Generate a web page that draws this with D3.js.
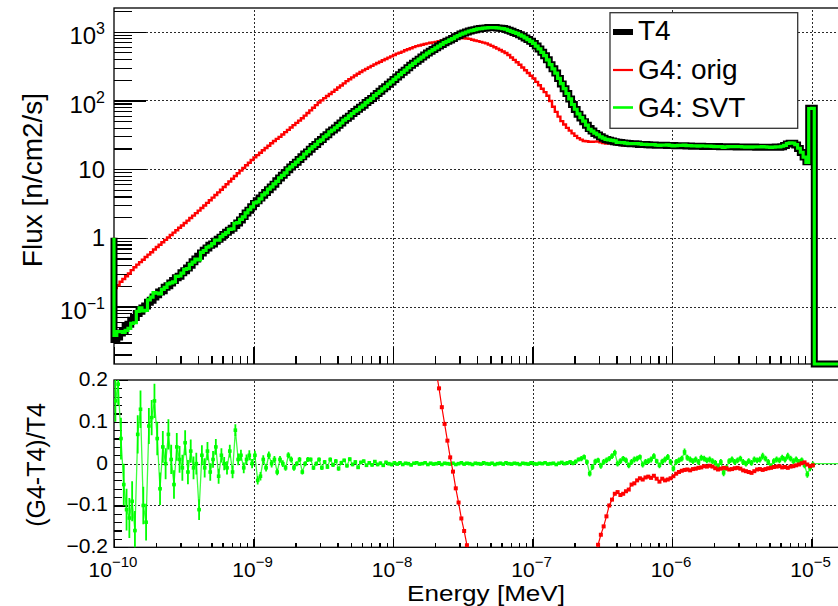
<!DOCTYPE html>
<html>
<head>
<meta charset="utf-8">
<script src="https://cdn.jsdelivr.net/npm/d3@7"></script>
<style>
  body { margin: 0; background: #fff; }
  svg { display: block; }
  text { font-family: "Liberation Sans", Arial, Helvetica, sans-serif; fill: #000; }
</style>
</head>
<body>
<svg id="chart" width="838" height="606"></svg>
<script>
// ---- Binning: 50 logarithmic bins per decade starting at 1e-10 MeV ----
const binsPerDecade = 50;
const logEnergyMin = -10;

// Content of the bin just below 1e-10 MeV (only its right edge is visible)
const underflowFlux = { t4: 1.0, orig: 1.0, svt: 1.0 };

// Neutron flux per bin [n/cm2/s]
const t4Flux = [
  0.033,0.036,0.041,0.044,0.051,0.055,0.063,0.069,0.079,0.085,
  0.095,0.102,0.115,0.123,0.138,0.148,0.162,0.170,0.190,0.200,
  0.219,0.240,0.263,0.275,0.309,0.331,0.363,0.398,0.447,0.490,
  0.537,0.603,0.661,0.708,0.776,0.813,0.891,0.955,1.02,1.12,
  1.20,1.29,1.38,1.51,1.64,1.82,2.04,2.29,2.51,2.82,
  3.16,3.47,3.80,4.17,4.57,5.01,5.50,6.03,6.76,7.41,
  8.13,8.91,9.77,10.7,11.7,12.6,13.8,15.1,16.6,17.8,
  19.5,21.4,22.9,25.1,26.9,29.5,31.6,34.7,37.2,39.8,
  43.6,46.8,51.3,55.0,58.9,64.6,69.2,74.1,79.4,85.1,
  93.3,100,107,116,126,136,148,158,172,186,
  202,219,237,257,275,299,324,347,372,398,
  427,457,490,519,550,582,617,653,692,724,
  759,794,841,881,923,955,989,1023,1047,1072,
  1096,1109,1122,1135,1148,1148,1148,1135,1122,1109,
  1084,1047,1012,977,944,902,861,813,767,724,
  676,617,562,501,447,389,331,288,251,209,
  174,148,126,105,87.0,74.0,63.0,55.6,49.0,43.6,
  38.9,35.9,33.1,31.3,29.5,28.2,26.9,26.3,25.7,25.1,
  24.5,24.3,24.0,23.7,23.6,23.4,23.3,23.2,22.9,22.9,
  22.8,22.6,22.5,22.4,22.3,22.3,22.2,22.2,22.1,22.1,
  22.0,21.9,21.9,21.8,21.8,21.7,21.7,21.6,21.6,21.5,
  21.5,21.4,21.4,21.4,21.3,21.3,21.3,21.2,21.2,21.2,
  21.1,21.1,21.1,21.0,21.0,21.0,20.9,20.9,20.9,20.9,
  20.8,20.8,20.8,20.8,20.8,20.8,20.8,20.9,20.8,21.2,
  22.0,23.2,23.8,23.8,22.5,20.0,17.5,15.0,12.8,77,
  77,0,0,0,0,0,0,0,0,0
];

const origFlux = [
  0.186,0.204,0.229,0.251,0.275,0.302,0.339,0.372,0.407,0.442,
  0.479,0.525,0.569,0.617,0.676,0.733,0.794,0.861,0.933,1.01,
  1.10,1.19,1.29,1.40,1.51,1.64,1.78,1.94,2.10,2.29,
  2.49,2.71,2.95,3.22,3.52,3.85,4.20,4.59,5.01,5.50,
  6.03,6.61,7.24,7.94,8.71,9.51,10.4,11.4,12.4,13.6,
  14.8,16.0,17.3,18.8,20.3,21.9,23.8,25.7,27.5,29.5,
  31.9,34.5,37.2,40.3,43.6,47.1,50.8,55.0,60.0,65.6,
  71.6,78.2,85.5,93.3,100,108,116,124,133,143,
  154,165,177,191,203,216,230,244,259,274,
  288,303,318,334,350,366,384,401,419,438,
  457,479,495,513,537,556,575,596,617,631,
  646,661,676,689,700,710,728,741,758,764,
  770,779,795,799,802,801,796,785,762,745,
  728,711,693,676,649,622,594,568,541,515,
  490,457,422,389,359,331,302,275,251,229,
  209,186,166,148,132,117,98.0,81.0,68.0,58.0,
  50.0,44.7,39.8,36.3,33.1,30.5,28.2,26.9,25.7,25.4,
  25.0,25.0,25.1,25.2,24.5,24.0,23.5,23.7,23.5,23.3,
  22.8,22.5,22.3,22.1,22.1,22.2,22.2,22.3,22.1,22.0,
  22.0,21.9,21.7,21.8,21.5,21.3,21.4,21.3,21.3,21.3,
  21.3,21.4,21.5,21.4,21.5,21.4,21.4,21.3,21.3,21.3,
  21.3,21.3,21.3,21.3,21.2,21.1,21.0,20.9,21.0,21.0,
  20.8,20.8,20.9,20.8,20.7,20.7,20.5,20.5,20.4,20.5,
  20.5,20.5,20.5,20.5,20.6,20.6,20.6,20.8,20.7,21.0,
  21.8,23.0,23.6,23.7,22.4,20.0,17.5,15.0,12.8,76.5,
  76.7,0,0,0,0,0,0,0,0,0
];

const svtFlux = [
  0.038,0.043,0.043,0.042,0.045,0.048,0.057,0.058,0.085,0.096,
  0.086,0.088,0.125,0.137,0.159,0.157,0.152,0.177,0.190,0.214,
  0.221,0.228,0.274,0.278,0.306,0.348,0.356,0.410,0.443,0.490,
  0.478,0.615,0.654,0.729,0.760,0.821,0.927,0.926,1.04,1.12,
  1.19,1.33,1.35,1.63,1.66,1.86,2.02,2.31,2.56,2.82,
  3.22,3.33,3.69,4.21,4.52,5.11,5.50,6.09,6.62,7.48,
  8.13,8.82,9.97,10.8,11.6,12.6,13.9,14.8,16.6,18.0,
  19.7,21.2,22.9,25.4,26.6,29.6,31.4,35.0,37.1,40.0,
  43.1,46.9,51.7,54.7,59.5,64.5,69.5,73.4,79.6,85.6,
  92.9,100,107,117,126,136,147,158,172,186,
  202,219,237,256,275,299,323,347,373,398,
  427,458,489,519,549,582,618,652,693,724,
  758,795,839,881,925,954,990,1023,1045,1073,
  1096,1108,1124,1135,1147,1149,1146,1135,1123,1108,
  1086,1047,1011,978,944,900,862,813,766,725,
  676,616,563,501,448,389,331,288,250,209,
  175,148,126,105,87.1,74.4,63.6,56.3,49.8,43.8,
  38.0,35.6,33.3,31.6,29.4,28.3,27.1,26.6,26.2,25.8,
  24.5,24.4,24.3,23.9,23.5,23.5,23.5,23.5,23.3,22.9,
  22.9,22.7,22.7,22.8,22.4,22.2,22.3,22.4,22.5,22.2,
  21.7,22.0,22.1,22.1,22.4,22.0,21.9,21.7,21.8,21.6,
  21.8,21.7,21.6,21.6,21.4,21.3,21.2,21.3,20.7,21.0,
  21.2,21.3,21.2,21.2,21.3,21.1,20.9,21.0,20.9,21.1,
  21.0,21.0,21.2,21.0,20.9,20.7,20.9,21.1,21.0,21.5,
  22.2,23.6,24.1,23.9,22.7,20.1,17.6,14.9,12.5,76.2,
  76.8,0,0,0,0,0,0,0,0,0
];

// Relative difference (G4-T4)/T4 per bin
const origRatio = [
  4.64,4.67,4.59,4.70,4.39,4.49,4.38,4.39,4.15,4.20,
  4.04,4.15,3.95,4.02,3.90,3.95,3.90,4.06,3.91,4.05,
  4.02,3.96,3.90,4.09,3.89,3.95,3.90,3.87,3.70,3.67,
  3.64,3.49,3.46,3.55,3.54,3.74,3.71,3.81,3.91,3.91,
  4.03,4.12,4.25,4.26,4.31,4.23,4.10,3.98,3.94,3.82,
  3.68,3.61,3.55,3.51,3.44,3.37,3.33,3.26,3.07,2.98,
  2.92,2.87,2.81,2.77,2.73,2.74,2.68,2.64,2.61,2.69,
  2.67,2.65,2.73,2.72,2.72,2.66,2.67,2.57,2.58,2.59,
  2.53,2.53,2.45,2.47,2.45,2.34,2.32,2.29,2.26,2.22,
  2.09,2.03,1.97,1.88,1.78,1.69,1.59,1.54,1.44,1.35,
  1.26,1.19,1.09,1.00,0.95,0.86,0.77,0.72,0.66,0.585,
  0.51,0.45,0.38,0.33,0.27,0.22,0.180,0.135,0.095,0.055,
  0.015,-0.019,-0.059,-0.093,-0.131,-0.161,-0.195,-0.233,-0.272,-0.305,
  -0.336,-0.359,-0.382,-0.404,-0.435,-0.458,-0.483,-0.500,-0.518,-0.536,
  -0.548,-0.564,-0.583,-0.602,-0.620,-0.633,-0.649,-0.662,-0.673,-0.684,
  -0.691,-0.699,-0.705,-0.705,-0.705,-0.699,-0.704,-0.719,-0.729,-0.722,
  -0.713,-0.698,-0.684,-0.654,-0.620,-0.588,-0.552,-0.516,-0.476,-0.417,
  -0.357,-0.304,-0.242,-0.194,-0.170,-0.150,-0.126,-0.100,-0.086,-0.072,
  -0.068,-0.075,-0.072,-0.066,-0.062,-0.050,-0.047,-0.040,-0.035,-0.038,
  -0.033,-0.031,-0.034,-0.029,-0.036,-0.043,-0.036,-0.040,-0.038,-0.035,
  -0.030,-0.024,-0.020,-0.017,-0.015,-0.014,-0.016,-0.013,-0.012,-0.010,
  -0.009,-0.006,-0.007,-0.005,-0.007,-0.011,-0.014,-0.012,-0.010,-0.011,
  -0.014,-0.013,-0.011,-0.010,-0.012,-0.016,-0.018,-0.020,-0.022,-0.018,
  -0.014,-0.013,-0.015,-0.013,-0.011,-0.010,-0.008,-0.007,-0.006,-0.009,
  -0.008,-0.010,-0.007,-0.006,-0.004,-0.002,0.001,0.003,-0.002,-0.006,
  -0.004,0,0,0,0,0,0,0,0,0
];

const svtRatio = [
  0.15,0.19,0.06,-0.05,-0.11,-0.13,-0.09,-0.16,0.07,0.13,
  -0.10,-0.14,0.09,0.11,0.15,0.06,-0.06,0.04,0.00,0.07,
  0.01,-0.05,0.04,0.01,-0.01,0.05,-0.02,0.03,-0.01,0.00,
  -0.11,0.02,-0.01,0.03,-0.02,0.01,0.04,-0.03,0.02,0.00,
  -0.01,0.03,-0.02,0.08,0.01,0.02,-0.01,0.01,0.02,0.00,
  0.02,-0.04,-0.03,0.01,-0.01,0.02,0.00,0.01,-0.02,0.01,
  0.00,-0.01,0.02,0.01,-0.01,0.00,0.01,-0.02,0.00,0.01,
  0.01,-0.01,0.00,0.01,-0.01,0.004,-0.008,0.010,-0.003,0.006,
  -0.012,0.002,0.008,-0.005,0.011,-0.002,0.004,-0.009,0.003,0.006,
  -0.004,0.002,-0.003,0.005,-0.002,0.001,-0.004,0.003,0.000,-0.002,
  0.002,-0.001,0.002,-0.002,0.001,0.000,-0.003,0.001,0.002,-0.001,
  0.000,0.002,-0.002,0.001,-0.001,0.000,0.002,-0.002,0.001,0.000,
  -0.001,0.001,-0.002,0.000,0.002,-0.001,0.001,0.000,-0.002,0.001,
  0.000,-0.001,0.002,0.000,-0.001,0.001,-0.002,0.000,0.001,-0.001,
  0.002,0.000,-0.001,0.001,0.000,-0.002,0.001,0.000,-0.001,0.002,
  0.000,-0.001,0.001,0.000,0.002,-0.001,0.000,0.001,-0.002,0.001,
  0.003,0.000,0.002,0.004,0.001,0.005,0.010,0.012,0.016,0.004,
  -0.024,-0.008,0.005,0.008,-0.005,0.004,0.008,0.012,0.018,0.026,
  0.000,0.006,0.012,0.008,-0.004,0.004,0.010,0.012,0.016,-0.002,
  0.004,0.006,0.010,0.018,0.006,-0.004,0.005,0.010,0.016,0.004,
  -0.012,0.004,0.008,0.012,0.028,0.014,0.010,0.006,0.010,0.004,
  0.014,0.012,0.008,0.010,0.006,0.002,-0.006,0.004,-0.022,-0.010,
  0.006,0.010,0.004,0.008,0.012,0.004,0.000,0.006,0.002,0.010,
  0.008,0.010,0.018,0.012,0.004,-0.006,0.006,0.010,0.008,0.014,
  0.010,0.018,0.012,0.006,0.010,0.004,0.008,-0.004,-0.026,-0.010,
  -0.002,0,0,0,0,0,0,0,0,0
];

const svtRatioErr = [
  0.050,0.050,0.050,0.050,0.050,0.048,0.048,0.047,0.046,0.045,
  0.045,0.044,0.043,0.042,0.041,0.040,0.039,0.038,0.037,0.036,
  0.035,0.034,0.033,0.032,0.031,0.030,0.029,0.028,0.027,0.026,
  0.025,0.024,0.023,0.022,0.021,0.020,0.019,0.018,0.017,0.016,
  0.016,0.015,0.015,0.014,0.014,0.013,0.013,0.012,0.012,0.011,
  0.011,0.010,0.010,0.010,0.009,0.009,0.009,0.008,0.008,0.008,
  0.008,0.007,0.007,0.007,0.007,0.006,0.006,0.006,0.006,0.006,
  0.005,0.005,0.005,0.005,0.005,0.005,0.005,0.005,0.005,0.005,
  0.005,0.005,0.004,0.004,0.004,0.004,0.004,0.004,0.004,0.004,
  0.004,0.004,0.004,0.004,0.004,0.004,0.004,0.004,0.004,0.004,
  0.003,0.003,0.003,0.003,0.003,0.003,0.003,0.003,0.003,0.003,
  0.003,0.003,0.003,0.003,0.003,0.003,0.003,0.003,0.003,0.003,
  0.003,0.003,0.003,0.003,0.003,0.003,0.003,0.003,0.003,0.003,
  0.003,0.003,0.003,0.003,0.003,0.003,0.003,0.003,0.003,0.003,
  0.003,0.003,0.003,0.003,0.003,0.003,0.003,0.003,0.003,0.003,
  0.003,0.003,0.003,0.003,0.003,0.003,0.003,0.003,0.003,0.003,
  0.003,0.003,0.004,0.004,0.005,0.005,0.005,0.006,0.006,0.006,
  0.007,0.007,0.007,0.006,0.007,0.007,0.007,0.006,0.007,0.007,
  0.007,0.007,0.006,0.007,0.007,0.007,0.007,0.007,0.006,0.007,
  0.007,0.007,0.007,0.007,0.006,0.007,0.007,0.007,0.007,0.007,
  0.007,0.007,0.007,0.007,0.008,0.007,0.007,0.007,0.007,0.007,
  0.007,0.007,0.007,0.007,0.007,0.007,0.007,0.007,0.008,0.007,
  0.007,0.007,0.007,0.007,0.007,0.007,0.007,0.007,0.007,0.007,
  0.007,0.007,0.008,0.007,0.007,0.007,0.007,0.007,0.007,0.007,
  0.007,0.008,0.007,0.007,0.007,0.007,0.007,0.007,0.008,0.008,
  0.007,0,0,0,0,0,0,0,0,0
];

// Axis ticks and labels
const fluxTicks = [0.1, 1, 10, 100, 1000];
const fluxTickLabels = [["10", "\u22121"], ["1", ""], ["10", ""], ["10", "2"], ["10", "3"]];
const ratioTicks = [-0.2, -0.1, 0, 0.1, 0.2];
const ratioTickLabels = ["\u22120.2", "\u22120.1", "0", "0.1", "0.2"];
const energyTicks = [1e-10, 1e-9, 1e-8, 1e-7, 1e-6, 1e-5];
const energyTickLabels = [["10", "\u221210"], ["10", "\u22129"], ["10", "\u22128"], ["10", "\u22127"], ["10", "\u22126"], ["10", "\u22125"]];

const seriesNames = ["T4", "G4: orig", "G4: SVT"];
const seriesColors = { t4: "#000000", orig: "#ff0000", svt: "#00ff00" };

// ---- Layout ----
const frameL = 114, frameR = 839.4;
const topT = 8, topB = 364;
const botT = 380, botB = 547.3;

const svg = d3.select("#chart");

const x = d3.scaleLog().domain([1e-10, Math.pow(10, -4.8)]).range([frameL, frameR]);
const yTop = d3.scaleLog().domain([0.01456, 2213]).range([topB, topT]);
const yBot = d3.scaleLinear().domain([-0.2, 0.2]).range([botB, botT]);

const edge = i => Math.pow(10, logEnergyMin + i / binsPerDecade);
const center = i => Math.pow(10, logEnergyMin + (i + 0.5) / binsPerDecade);
const yFlux = v => (v > yTop.domain()[0] ? yTop(v) : topB);

// minor tick values
function logMinors(lo, hi, dMin, dMax) {
  const out = [];
  for (let d = dMin; d <= dMax; d++)
    for (let k = 2; k <= 9; k++) {
      const v = k * Math.pow(10, d);
      if (v > lo && v < hi) out.push(v);
    }
  return out;
}
const fluxMinors = logMinors(yTop.domain()[0], yTop.domain()[1], -2, 3);
const energyMinors = logMinors(x.domain()[0], x.domain()[1], -10, -5);
const ratioMinors = d3.range(-0.2, 0.2001, 0.02).filter(v => Math.abs(Math.round(v * 10) - v * 10) > 1e-6);

function clean(g) { g.select(".domain").remove(); return g; }

// ---- Grid (dotted) ----
const grid = svg.append("g").attr("shape-rendering", "crispEdges");
function gridStyle(g) {
  clean(g);
  g.selectAll("line").attr("stroke", "#2a2a2a").attr("stroke-width", 1).attr("stroke-dasharray", "2,2");
  g.selectAll("text").remove();
}
grid.append("g").attr("transform", `translate(${frameL},0)`)
  .call(d3.axisRight(yTop).tickValues(fluxTicks).tickSize(frameR - frameL).tickFormat(""))
  .call(gridStyle);
grid.append("g").attr("transform", `translate(0,${topB})`)
  .call(d3.axisTop(x).tickValues(energyTicks.slice(1)).tickSize(topB - topT).tickFormat(""))
  .call(gridStyle);
grid.append("g").attr("transform", `translate(${frameL},0)`)
  .call(d3.axisRight(yBot).tickValues([-0.1, 0, 0.1]).tickSize(frameR - frameL).tickFormat(""))
  .call(gridStyle);
grid.append("g").attr("transform", `translate(0,${botB})`)
  .call(d3.axisTop(x).tickValues(energyTicks.slice(1)).tickSize(botB - botT).tickFormat(""))
  .call(gridStyle);

// ---- Frames ----
svg.append("rect").attr("x", frameL).attr("y", topT).attr("width", frameR - frameL).attr("height", topB - topT)
  .attr("fill", "none").attr("stroke", "#000").attr("stroke-width", 1.3);
svg.append("rect").attr("x", frameL).attr("y", botT).attr("width", frameR - frameL).attr("height", botB - botT)
  .attr("fill", "none").attr("stroke", "#000").attr("stroke-width", 1.3);

// ---- Tick marks ----
function tickStyle(g) {
  clean(g);
  g.selectAll("line").attr("stroke", "#000").attr("stroke-width", 1.2);
}
const ticks = svg.append("g").attr("shape-rendering", "crispEdges");
ticks.append("g").attr("transform", `translate(${frameL},0)`)
  .call(d3.axisRight(yTop).tickValues(fluxTicks).tickSize(32).tickFormat("")).call(tickStyle);
ticks.append("g").attr("transform", `translate(${frameL},0)`)
  .call(d3.axisRight(yTop).tickValues(fluxMinors).tickSize(18).tickFormat("")).call(tickStyle);
ticks.append("g").attr("transform", `translate(0,${topB})`)
  .call(d3.axisTop(x).tickValues(energyTicks).tickSize(17).tickFormat("")).call(tickStyle);
ticks.append("g").attr("transform", `translate(0,${topB})`)
  .call(d3.axisTop(x).tickValues(energyMinors).tickSize(8).tickFormat("")).call(tickStyle);
ticks.append("g").attr("transform", `translate(${frameL},0)`)
  .call(d3.axisRight(yBot).tickValues(ratioTicks).tickSize(14).tickFormat("")).call(tickStyle);
ticks.append("g").attr("transform", `translate(${frameL},0)`)
  .call(d3.axisRight(yBot).tickValues(ratioMinors).tickSize(8).tickFormat("")).call(tickStyle);
ticks.append("g").attr("transform", `translate(0,${botB})`)
  .call(d3.axisTop(x).tickValues(energyTicks).tickSize(8).tickFormat("")).call(tickStyle);
ticks.append("g").attr("transform", `translate(0,${botB})`)
  .call(d3.axisTop(x).tickValues(energyMinors).tickSize(4).tickFormat("")).call(tickStyle);

// ---- Tick labels ----
const fluxLab = svg.append("g").attr("font-size", 24).attr("text-anchor", "end");
fluxTicks.forEach((v, i) => {
  const [base, sup] = fluxTickLabels[i];
  const t = fluxLab.append("text").attr("x", 105).attr("y", yTop(v) + (sup ? 12.5 : 8.5));
  t.append("tspan").text(base);
  if (sup) t.append("tspan").attr("dy", -10).attr("font-size", 16).text(sup);
});
const ratioLab = svg.append("g").attr("font-size", 21).attr("text-anchor", "end");
ratioTicks.forEach((v, i) => {
  ratioLab.append("text").attr("x", 108).attr("y", yBot(v) + 6).text(ratioTickLabels[i]);
});
// energy labels: mantissa and exponent as separate texts, centred as a pair on the tick
const energyLab = svg.append("g");
energyTicks.forEach((v, i) => {
  const [base, sup] = energyTickLabels[i];
  const b = energyLab.append("text").attr("font-size", 21).attr("y", 576.9).text(base);
  const s = energyLab.append("text").attr("font-size", 15).attr("y", 566.5).text(sup);
  const wb = b.node().getComputedTextLength();
  const ws = s.node().getComputedTextLength();
  const left = x(v) - (wb + ws) / 2 - 1;
  b.attr("x", left);
  s.attr("x", left + wb);
});

// ---- Axis titles ----
svg.append("text").attr("transform", "translate(42,180) rotate(-90)")
  .attr("text-anchor", "middle").attr("font-size", 28).text("Flux [n/cm2/s]");
svg.append("text").attr("transform", "translate(45,465) rotate(-90)")
  .attr("text-anchor", "middle").attr("font-size", 25).text("(G4-T4)/T4");
svg.append("text").attr("x", 565).attr("y", 601.2)
  .attr("text-anchor", "end").attr("font-size", 22)
  .attr("textLength", 158).attr("lengthAdjust", "spacingAndGlyphs")
  .text("Energy [MeV]");

// ---- Flux histograms (step lines) ----
function stepPath(values, under) {
  let p = `M${x(edge(0))},${yFlux(under)}`;
  values.forEach((v, i) => { p += `V${yFlux(v)}H${x(edge(i + 1))}`; });
  return p;
}
const hist = svg.append("g").attr("fill", "none").attr("stroke-linejoin", "miter").attr("stroke-linecap", "butt");
hist.append("path").attr("d", stepPath(origFlux, underflowFlux.orig))
  .attr("stroke", seriesColors.orig).attr("stroke-width", 2.4);
hist.append("path").attr("d", stepPath(t4Flux, underflowFlux.t4))
  .attr("stroke", seriesColors.t4).attr("stroke-width", 7);
hist.append("path").attr("d", stepPath(svtFlux, underflowFlux.svt))
  .attr("stroke", seriesColors.svt).attr("stroke-width", 3.2);

// ---- Ratio panel ----
svg.append("clipPath").attr("id", "ratioClip").append("rect")
  .attr("x", frameL).attr("y", botT).attr("width", frameR - frameL).attr("height", botB - botT);
const ratio = svg.append("g").attr("clip-path", "url(#ratioClip)");

const binIdx = d3.range(t4Flux.length);
const filled = binIdx.filter(i => t4Flux[i] > 0);

// G4: SVT ratio with statistical error bars
const svtG = ratio.append("g");
svtG.append("path")
  .attr("d", d3.line().x(i => x(center(i))).y(i => yBot(svtRatio[i]))(binIdx))
  .attr("fill", "none").attr("stroke", "#3dff3d").attr("stroke-width", 1.3);
svtG.selectAll("line.ex").data(filled).join("line").attr("class", "ex")
  .attr("x1", i => x(edge(i))).attr("x2", i => x(edge(i + 1)))
  .attr("y1", i => yBot(svtRatio[i])).attr("y2", i => yBot(svtRatio[i]))
  .attr("stroke", seriesColors.svt).attr("stroke-width", 1.6);
svtG.selectAll("line.ey").data(filled).join("line").attr("class", "ey")
  .attr("x1", i => x(center(i))).attr("x2", i => x(center(i)))
  .attr("y1", i => yBot(svtRatio[i] - svtRatioErr[i])).attr("y2", i => yBot(svtRatio[i] + svtRatioErr[i]))
  .attr("stroke", seriesColors.svt).attr("stroke-width", 1.8);
svtG.selectAll("rect").data(filled).join("rect")
  .attr("x", i => x(center(i)) - 1.8).attr("y", i => yBot(svtRatio[i]) - 1.8)
  .attr("width", 3.6).attr("height", 3.6).attr("fill", seriesColors.svt);

// G4: orig ratio
const origG = ratio.append("g");
origG.append("path")
  .attr("d", d3.line().x(i => x(center(i))).y(i => yBot(origRatio[i]))(filled))
  .attr("fill", "none").attr("stroke", seriesColors.orig).attr("stroke-width", 1.2);
origG.selectAll("rect").data(filled).join("rect")
  .attr("x", i => x(center(i)) - 2).attr("y", i => yBot(origRatio[i]) - 2)
  .attr("width", 4).attr("height", 4).attr("fill", seriesColors.orig);

// ---- Legend ----
const leg = svg.append("g");
leg.append("rect").attr("x", 610).attr("y", 12.7).attr("width", 187.7).attr("height", 115.6)
  .attr("fill", "#fff").attr("stroke", "#333").attr("stroke-width", 1.3);
const legRows = [
  { name: seriesNames[0], color: seriesColors.t4, width: 6, y: 32, base: 40 },
  { name: seriesNames[1], color: seriesColors.orig, width: 2.2, y: 70, base: 78.5 },
  { name: seriesNames[2], color: seriesColors.svt, width: 2.6, y: 107.5, base: 116.5 }
];
legRows.forEach(r => {
  leg.append("line").attr("x1", 613).attr("x2", 633).attr("y1", r.y).attr("y2", r.y)
    .attr("stroke", r.color).attr("stroke-width", r.width);
  leg.append("text").attr("x", 638).attr("y", r.base).attr("font-size", 28).text(r.name);
});
</script>
</body>
</html>
